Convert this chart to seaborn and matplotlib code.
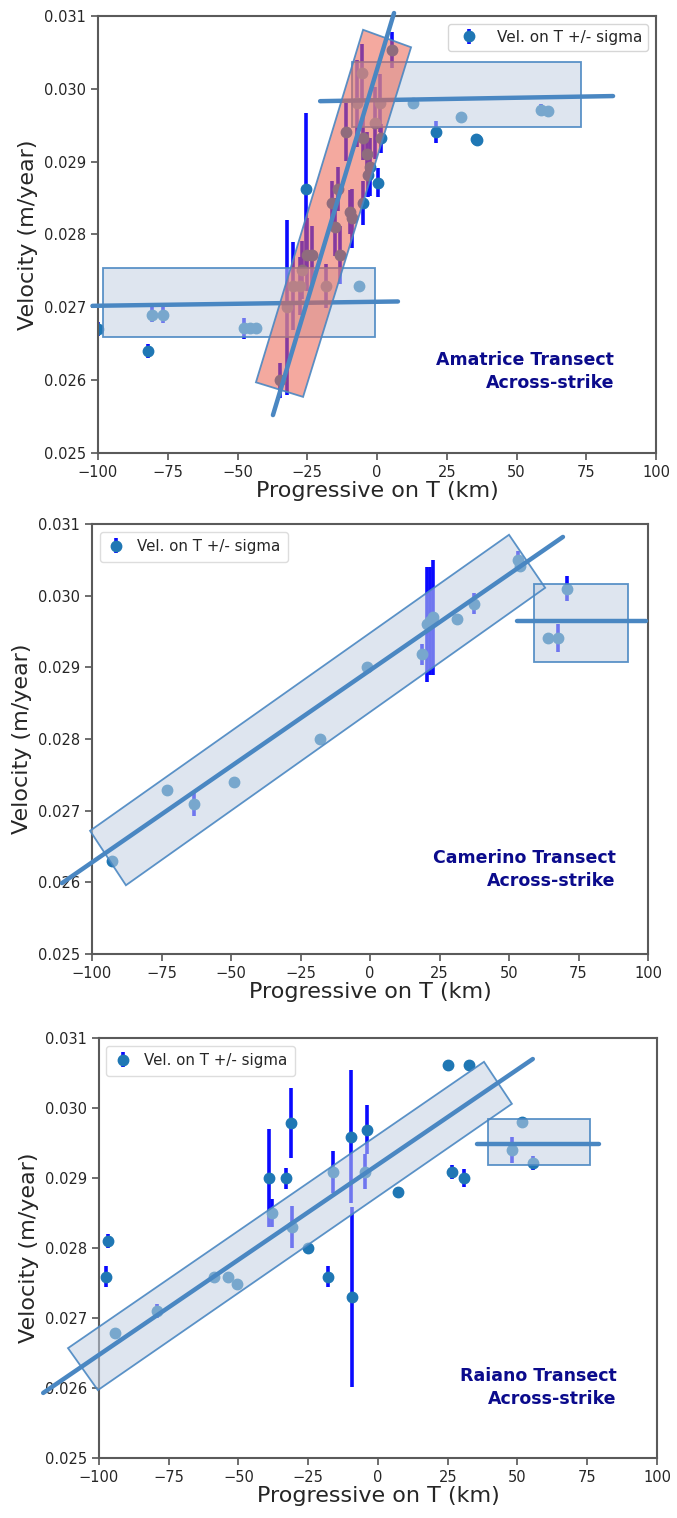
import numpy as np
import matplotlib
matplotlib.use("Agg")
import matplotlib.pyplot as plt
from matplotlib.patches import Polygon
from matplotlib.ticker import FormatStrFormatter
import seaborn as sns

# ---- Amatrice transect ----
am_km = [-100, -82.1, -80.6, -76.7, -47.7, -45.5, -43.4, -6.5, 12.9, 21.1, 30.1, 35.4, 36.0,
         58.8, 61.3, 5.4, -5.4, -7.2, 1.1, -0.7, -11.1, -5.0, 1.4, -3.6, -2.5, -3.2, 0.4,
         -25.4, -14.0, -16.1, -5.0, -9.7, -9.0, -15.1, -13.3, -23.3, -25.0, -26.9, -30.1,
         -27.6, -18.3, -32.3, -34.8]
am_vel = [0.0267, 0.0264, 0.0269, 0.0269, 0.02671, 0.02671, 0.02671, 0.02729, 0.0298, 0.02941,
          0.02961, 0.02931, 0.0293, 0.02971, 0.0297, 0.03053, 0.03022, 0.0298, 0.0298, 0.02953,
          0.02941, 0.02932, 0.02932, 0.0291, 0.02893, 0.02882, 0.02871, 0.02862, 0.02862,
          0.02843, 0.02843, 0.02831, 0.02822, 0.0281, 0.02772, 0.02772, 0.02772, 0.02751,
          0.02729, 0.02729, 0.02729, 0.0270, 0.0260]
am_sig = [0.0001, 0.0001, 0.0001, 0.00012, 0.00014, 0.00005, 0.00005, 0.00005, 0.00005, 0.00015,
          0.00005, 0.00006, 0.00005, 0.00008, 0.00005, 0.00025, 0.0004, 0.0006, 0.0004, 0.0005,
          0.0004, 0.0003, 0.0002, 0.0003, 0.0004, 0.0003, 0.0002, 0.00105, 0.0003, 0.0003,
          0.0003, 0.0003, 0.0004, 0.0004, 0.0004, 0.0004, 0.0005, 0.0004, 0.0006, 0.0004,
          0.0003, 0.0012, 0.00024]

# ---- Camerino transect ----
cam_km = [-92.8, -73.0, -63.3, -48.9, -18.0, -1.1, 18.7, 20.5, 21.5, 22.5, 31.3, 37.4,
          53.2, 54.0, 70.8, 64.0, 67.6]
cam_vel = [0.0263, 0.02729, 0.0271, 0.0274, 0.0280, 0.0290, 0.02918, 0.0296, 0.02965, 0.0297,
           0.02968, 0.02989, 0.0305, 0.03042, 0.0301, 0.02941, 0.02941]
cam_sig = [0.00005, 0.00003, 0.00018, 0.00003, 0.00003, 0.00003, 0.00015, 0.0008, 0.00075,
           0.0008, 0.00003, 0.00015, 0.00012, 0.00005, 0.00017, 0.00003, 0.0002]

# ---- Raiano transect ----
rai_km = [-97.5, -96.8, -94.3, -79.2, -58.8, -53.8, -50.5, -39.1, -38.0, -33.0, -31.2, -30.8,
          -25.1, -17.9, -16.1, -9.7, -9.3, -3.9, -4.7, 7.2, 25.1, 32.6, 26.5, 30.8, 51.6,
          48.0, 55.5]
rai_vel = [0.02759, 0.0281, 0.02679, 0.0271, 0.02759, 0.02759, 0.02749, 0.0290, 0.0285, 0.0290,
           0.02979, 0.0283, 0.0280, 0.02759, 0.02909, 0.02959, 0.0273, 0.02969, 0.02909, 0.0288,
           0.03061, 0.03061, 0.02909, 0.0290, 0.0298, 0.0294, 0.02921]
rai_sig = [0.00015, 0.0001, 0.00005, 0.0001, 0.00005, 0.00003, 0.00003, 0.0007, 0.0002, 0.00015,
           0.0005, 0.0003, 0.00003, 0.00015, 0.0003, 0.00095, 0.00128, 0.00035, 0.00025, 0.00003,
           0.00003, 0.00003, 0.0001, 0.00013, 0.00003, 0.00018, 0.0001]

# fitted trend segments (x ends, y ends)
am_fits = [([-102, 7.5], [0.02702, 0.02708]),
           ([-20.4, 84.6], [0.02983, 0.0299])]
am_steep = ([-37.3, 6.1], [0.02552, 0.03104])
cam_fits = [([-110.8, 69.4], [0.02599, 0.03082]),
            ([52.9, 99.3], [0.02964, 0.02964])]
rai_fits = [([-120, 55.5], [0.02593, 0.0307]),
            ([35.5, 79.2], [0.02949, 0.02949])]

# grouping boxes (corners in km / velocity)
am_boxes = [[(-98.2, 0.02754), (-0.7, 0.02754), (-0.7, 0.02659), (-98.2, 0.02659)],
            [(-9.0, 0.03037), (73.1, 0.03037), (73.1, 0.02948), (-9.0, 0.02948)]]
am_red = [(-5.0, 0.03081), (12.2, 0.03057), (-26.5, 0.02577), (-43.4, 0.02597)]
cam_boxes = [[(-100.7, 0.02672), (50, 0.03085), (63, 0.03011), (-87.8, 0.02596)],
             [(59, 0.03017), (92.8, 0.03017), (92.8, 0.02907), (59, 0.02907)]]
rai_boxes = [[(-111.1, 0.02657), (38, 0.03066), (48, 0.03006), (-100.4, 0.02597)],
             [(39.4, 0.02984), (76, 0.02984), (76, 0.02919), (39.4, 0.02919)]]

x_ticks = [-100, -75, -50, -25, 0, 25, 50, 75, 100]
y_ticks = [0.025, 0.026, 0.027, 0.028, 0.029, 0.030, 0.031]

PT_COL = "#1f77b4"
ERR_COL = "#0a0aff"
LINE_COL = "#4a87c2"
BOX_FACE = "#c3d0e2"
BOX_EDGE = "#4a87c2"
TXT_COL = "#0b0b8c"

sns.set_theme(style="ticks")
plt.rcParams['font.family'] = ['DejaVu Sans']

fig = plt.figure(figsize=(6.77, 15.18), dpi=100)
ax1 = fig.add_axes([0.1448, 0.7016, 0.8242, 0.2879])
ax2 = fig.add_axes([0.1359, 0.3715, 0.8213, 0.2833])
ax3 = fig.add_axes([0.1462, 0.0395, 0.8242, 0.2767])


def draw_box(ax, corners, face=BOX_FACE, alpha=0.55, z=3):
    ax.add_patch(Polygon(corners, closed=True, facecolor=face, edgecolor="none",
                         alpha=alpha, zorder=z, clip_on=False))
    ax.add_patch(Polygon(corners, closed=True, facecolor="none", edgecolor=BOX_EDGE,
                         lw=1.3, alpha=0.9, zorder=z + 0.01, clip_on=False))


def panel(ax, km, vel, sig, fits, boxes, title, legend_loc, txt_pos):
    eb = ax.errorbar(km, vel, yerr=sig, fmt="o", color=PT_COL, ecolor=ERR_COL, elinewidth=2.6,
                     markersize=7.5, capsize=0, label="Vel. on T +/- sigma", zorder=2)
    # bars under the dots
    for bl in eb[2]:
        bl.set_zorder(1.9)
    for corners in boxes:
        draw_box(ax, corners)
    for xs, ys in fits:
        sns.lineplot(x=xs, y=ys, ax=ax, color=LINE_COL, lw=3.2, zorder=4, clip_on=False)
    ax.set_xlim(-100, 100)
    ax.set_ylim(0.025, 0.031)
    ax.set_xticks(x_ticks)
    ax.set_yticks(y_ticks)
    ax.yaxis.set_major_formatter(FormatStrFormatter("%.3f"))
    ax.tick_params(labelsize=10.5, length=5, width=1.2, color="#555555", direction="out")
    for s in ax.spines.values():
        s.set_color("#5a5a5a")
        s.set_linewidth(1.5)
    ax.set_xlabel("Progressive on T (km)", fontsize=16, labelpad=1)
    ax.set_ylabel("Velocity (m/year)", fontsize=16, labelpad=4)
    ax.legend(loc=legend_loc, fontsize=10.8, frameon=True, handlelength=1.2,
              borderpad=0.5, framealpha=1, edgecolor="#dddddd")
    ax.text(txt_pos[0], txt_pos[1], title, transform=ax.transAxes, ha="right", va="bottom",
            multialignment="right", fontsize=12.5, fontweight="bold", color=TXT_COL,
            linespacing=1.35)


panel(ax1, am_km, am_vel, am_sig, am_fits, am_boxes,
      "Amatrice Transect\nAcross-strike", "upper right", (0.925, 0.14))
# red highlighted band over the steep section
draw_box(ax1, am_red, face="#ec6350", alpha=0.55, z=4.5)
sns.lineplot(x=am_steep[0], y=am_steep[1], ax=ax1, color=LINE_COL, lw=3.2, zorder=5,
             clip_on=False)

panel(ax2, cam_km, cam_vel, cam_sig, cam_fits, cam_boxes,
      "Camerino Transect\nAcross-strike", "upper left", (0.942, 0.15))
panel(ax3, rai_km, rai_vel, rai_sig, rai_fits, rai_boxes,
      "Raiano Transect\nAcross-strike", "upper left", (0.928, 0.12))

fig.savefig("out.png", dpi=100)
